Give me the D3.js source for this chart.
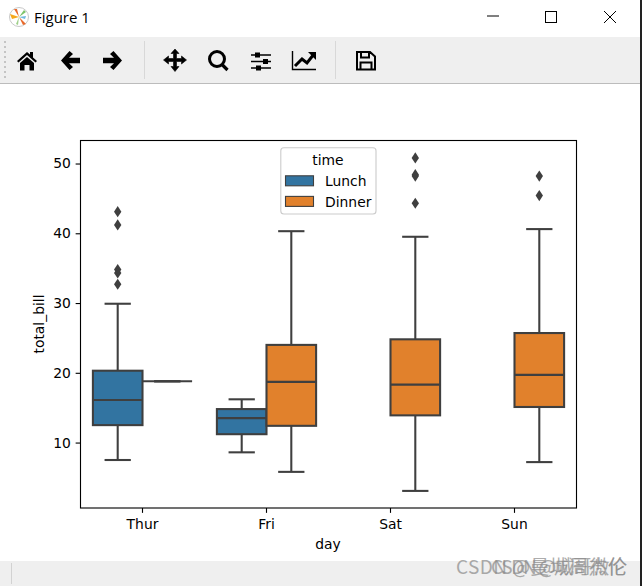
<!DOCTYPE html>
<html>
<head>
<meta charset="utf-8">
<script src="https://cdn.jsdelivr.net/npm/d3@7/dist/d3.min.js"></script>
<style>
html, body { margin: 0; padding: 0; background: #fff; }
svg { display: block; }
text { font-family: 'DejaVu Sans'; fill: #000; }
</style>
</head>
<body>
<svg id="chart" width="642" height="586"></svg>
<script>
var days = ['Thur', 'Fri', 'Sat', 'Sun'];
var times = ['Lunch', 'Dinner'];
var yTicks = [10, 20, 30, 40, 50];

// 每个 day 一行: [下须, q1, 中位数, q3, 上须]，null 表示没有这个分组
var lunchStats = [
	[7.5, 12.5, 16.1, 20.3, 29.9],
	[8.6, 11.2, 13.5, 14.8, 16.2],
	null,
	null
];
var dinnerStats = [
	[18.78, 18.78, 18.78, 18.78, 18.78],
	[5.8, 12.4, 18.7, 24.0, 40.3],
	[3.07, 13.9, 18.3, 24.8, 39.5],
	[7.2, 15.1, 19.7, 25.7, 40.6]
];
var lunchFliers = [[43.1, 41.2, 34.8, 34.3, 32.7], [], [], []];
var dinnerFliers = [[], [], [50.8, 48.4, 48.2, 44.3], [48.2, 45.4]];

var colors = ['#3274a1', '#e1812c'];
var lineColor = '#3f3f3f';

var svg = d3.select('#chart');

// 窗口外框
function renderWindow() {
	var g = svg.append('g');
	g.append('rect').attr('y', 37).attr('width', 642).attr('height', 46).attr('fill', '#efefef');
	g.append('rect').attr('y', 83).attr('width', 642).attr('height', 1).attr('fill', '#bcbcbc');
	g.append('rect').attr('y', 561).attr('width', 642).attr('height', 25).attr('fill', '#efefef');
	g.append('rect').attr('x', 11).attr('y', 563).attr('width', 1).attr('height', 21).attr('fill', '#d2d2d2');
	g.append('rect').attr('x', 640).attr('width', 2).attr('height', 586).attr('fill', '#222');
	g.append('text').attr('x', 34).attr('y', 23)
		.style('font-family', "'Open Sans'").style('font-size', '15px').text('Figure 1');

	// 最小化、最大化、关闭
	g.append('path').attr('d', 'M487 16H499').attr('stroke', '#000').attr('stroke-width', 1);
	g.append('rect').attr('x', 545.5).attr('y', 11.5).attr('width', 11).attr('height', 11)
		.attr('fill', 'none').attr('stroke', '#000').attr('stroke-width', 1);
	g.append('path').attr('d', 'M604 11L616 23M616 11L604 23').attr('stroke', '#000').attr('stroke-width', 1);

	// 程序图标
	var logo = g.append('g').attr('transform', 'translate(19,17)');
	logo.append('circle').attr('r', 9.5).attr('fill', '#fff').attr('stroke', '#c8c8c8').attr('stroke-width', 1);
	logo.append('path').attr('d', 'M0 0L-9 -3L-7 2Z').attr('fill', '#f5a81c');
	logo.append('path').attr('d', 'M0 0L7 7L4 8Z').attr('fill', '#e8692a');
	logo.append('path').attr('d', 'M0 0L-5 -8L-2 -8Z').attr('fill', '#e8692a');
	logo.append('path').attr('d', 'M0 0L5 -7L7 -5Z').attr('fill', '#7cc36a');
	logo.append('path').attr('d', 'M0 0L7 -1L6 2Z').attr('fill', '#6fb8e0');
	logo.append('path').attr('d', 'M0 0L-3 7L-1 8Z').attr('fill', '#9fd08a');

	// 工具栏
	var bar = g.append('g');
	for (var i = 0; i < 8; i++) {
		bar.append('rect').attr('x', 4).attr('y', 41 + i * 5).attr('width', 2).attr('height', 2).attr('fill', '#c4c4c4');
	}
	[144, 335].forEach(function (x) {
		bar.append('rect').attr('x', x).attr('y', 41).attr('width', 1).attr('height', 38).attr('fill', '#d8d8d8');
	});
	// home
	bar.append('path').attr('fill', '#000')
		.attr('d', 'M17 61L27 52L30 54.5V52H33V57.5L37 61L35.5 62.5L27 55L18.5 62.5ZM20 63L27 57L34 63V70.5H29.5V65H24.5V70.5H20Z');
	// 左右箭头
	var arrow = 'M-9.5 0L-1 -9.5L2.5 -6.5L-1.5 -2.7H9.5V2.7H-1.5L2.5 6.5L-1 9.5Z';
	bar.append('path').attr('d', arrow).attr('transform', 'translate(70.5,60.5)').attr('fill', '#000');
	bar.append('path').attr('d', arrow).attr('transform', 'translate(112.5,60.5) scale(-1,1)').attr('fill', '#000');
	// pan
	bar.append('path').attr('fill', '#000').attr('stroke', '#000').attr('stroke-width', 0.6)
		.attr('d', 'M175 49L179 53.5H176.5V58.5H181.5V56L186.5 60L181.5 64V61.5H176.5V66.5H179L175 71.5L171 66.5H173.5V61.5H168.5V64L163.5 60L168.5 56V58.5H173.5V53.5H171Z');
	// zoom
	bar.append('circle').attr('cx', 217).attr('cy', 59).attr('r', 7.5)
		.attr('fill', 'none').attr('stroke', '#000').attr('stroke-width', 3);
	bar.append('path').attr('d', 'M222 64.5L227.5 70').attr('stroke', '#000').attr('stroke-width', 3.2);
	// subplots
	[[55, 255], [61.5, 263], [68, 256]].forEach(function (d) {
		bar.append('path').attr('d', 'M251 ' + d[0] + 'H271').attr('stroke', '#000').attr('stroke-width', 1.5);
		bar.append('rect').attr('x', d[1]).attr('y', d[0] - 2.5).attr('width', 5).attr('height', 5).attr('fill', '#000');
	});
	// lines
	bar.append('path').attr('d', 'M292.5 51V69.5H316').attr('fill', 'none').attr('stroke', '#000').attr('stroke-width', 1.4);
	bar.append('path').attr('d', 'M295 66L302 59L307 63L314 54').attr('fill', 'none').attr('stroke', '#000').attr('stroke-width', 3);
	bar.append('path').attr('d', 'M308 52H316V60Z').attr('fill', '#000');
	// save
	bar.append('path').attr('fill', 'none').attr('stroke', '#000').attr('stroke-width', 2)
		.attr('d', 'M357 52H370L375 56.5V69.5H357ZM361 52V57.5H369V52M360.5 69.5V62.5H371.5V69.5');
}

// 主图
function renderPlot() {
	var left = 80.5, right = 576.5, top = 140.5, bottom = 508;
	var x = d3.scaleBand().domain(days).range([left, right]);
	var hue = d3.scaleBand().domain(times).range([0, x.bandwidth() * 0.8]);
	var y = d3.scaleLinear().domain([0.62, 53.3]).range([bottom, top]);
	var capHalf = hue.bandwidth() * 0.265;

	var thinDiamond = {
		draw: function (ctx, size) {
			var h = Math.sqrt(size);
			ctx.moveTo(0, -h);
			ctx.lineTo(h * 0.66, 0);
			ctx.lineTo(0, h);
			ctx.lineTo(-h * 0.66, 0);
			ctx.closePath();
		}
	};

	var axisY = d3.axisLeft(y).tickValues(yTicks).tickSize(4.86).tickPadding(4.86);
	var axisX = d3.axisBottom(x).tickSize(4.86).tickPadding(6);

	times.forEach(function (time, t) {
		var stats = t === 0 ? lunchStats : dinnerStats;
		var fliers = t === 0 ? lunchFliers : dinnerFliers;
		days.forEach(function (day, i) {
			var cx = x(day) + x.bandwidth() * 0.1 + hue(time);
			var mid = cx + hue.bandwidth() / 2;
			var g = svg.append('g');
			if (stats[i]) {
				var s = stats[i];
				var line = function (x1, y1, x2, y2) {
					g.append('line').attr('x1', x1).attr('y1', y1).attr('x2', x2).attr('y2', y2)
						.attr('stroke', lineColor).attr('stroke-width', 2.08);
				};
				line(mid, y(s[0]), mid, y(s[1]));
				line(mid, y(s[3]), mid, y(s[4]));
				line(mid - capHalf, y(s[0]), mid + capHalf, y(s[0]));
				line(mid - capHalf, y(s[4]), mid + capHalf, y(s[4]));
				g.append('rect').attr('x', cx).attr('y', y(s[3]))
					.attr('width', hue.bandwidth()).attr('height', y(s[1]) - y(s[3]))
					.attr('fill', colors[t]).attr('stroke', lineColor).attr('stroke-width', 2.08);
				line(cx, y(s[2]), cx + hue.bandwidth(), y(s[2]));
			}
			g.selectAll('path.flier').data(fliers[i]).enter().append('path')
				.attr('class', 'flier')
				.attr('d', d3.symbol().type(thinDiamond).size(31))
				.attr('transform', function (d) { return 'translate(' + mid + ',' + y(d) + ')'; })
				.attr('fill', lineColor);
		});
	});

	svg.append('rect').attr('x', left).attr('y', top)
		.attr('width', right - left).attr('height', bottom - top)
		.attr('fill', 'none').attr('stroke', '#000').attr('stroke-width', 1.11);

	var gy = svg.append('g').attr('transform', 'translate(' + left + ',0)').call(axisY);
	var gx = svg.append('g').attr('transform', 'translate(0,' + bottom + ')').call(axisX);
	[gy, gx].forEach(function (a) {
		a.select('.domain').remove();
		a.selectAll('line').attr('stroke', '#000').attr('stroke-width', 1.11);
		a.selectAll('text').style('font-family', "'DejaVu Sans'").style('font-size', '13.89px').attr('fill', '#000');
	});

	svg.append('text').attr('x', 328).attr('y', 549).attr('text-anchor', 'middle')
		.style('font-size', '13.89px').text('day');
	svg.append('text').attr('transform', 'translate(44,324) rotate(-90)').attr('text-anchor', 'middle')
		.style('font-size', '13.89px').text('total_bill');

	// 图例
	var legend = svg.append('g');
	legend.append('rect').attr('x', 280.8).attr('y', 147.8).attr('width', 95.2).attr('height', 66.2).attr('rx', 3)
		.attr('fill', '#fff').attr('fill-opacity', 0.8).attr('stroke', '#ccc').attr('stroke-width', 1.11);
	legend.append('text').attr('x', 328).attr('y', 164.5).attr('text-anchor', 'middle')
		.style('font-size', '13.89px').text('time');
	times.forEach(function (time, t) {
		legend.append('rect').attr('x', 285.5).attr('y', 175.8 + t * 20.6).attr('width', 28).attr('height', 10)
			.attr('fill', colors[t]).attr('stroke', lineColor).attr('stroke-width', 1.1);
		legend.append('text').attr('x', 325).attr('y', 186 + t * 20.6)
			.style('font-size', '13.89px').text(time);
	});
}

// 水印，原图是两层叠在一起
function renderMark() {
	var g = svg.append('g').style('font-size', '19px');
	[[456, 'CSDN @曼城周杰伦'], [491, 'CSDN @城哥微伦']].forEach(function (d) {
		g.append('text').attr('x', d[0]).attr('y', 574)
			.style('font-family', "'Noto Sans CJK SC'").style('fill', '#8a8a8a').attr('opacity', 0.7)
			.attr('textLength', 627 - d[0]).text(d[1]);
	});
}

renderWindow();
renderPlot();
renderMark();
</script>
</body>
</html>
